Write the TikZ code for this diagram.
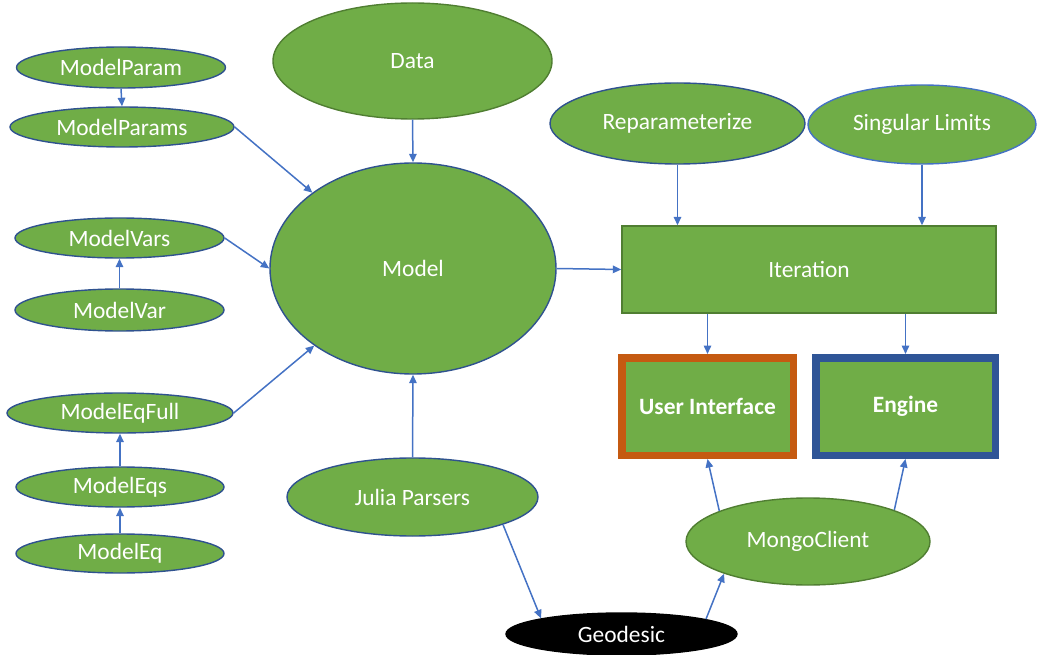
\documentclass[tikz,border=0pt]{standalone}
\usepackage{fontspec}
\setmainfont{Carlito}
\usetikzlibrary{shapes.geometric,arrows.meta,calc}
\definecolor{gfill}{HTML}{70AD47}
\definecolor{gline}{HTML}{507E32}
\definecolor{bline}{HTML}{2F528F}
\definecolor{lline}{HTML}{4472C4}
\definecolor{arr}{HTML}{4472C4}
\definecolor{orng}{HTML}{C55A11}
\definecolor{dblue}{HTML}{2F5597}
\tikzset{
  ell/.style={ellipse, fill=gfill, draw=bline, line width=1.4pt, inner sep=0pt, text=white,
    font=\fontsize{23.4}{28}\selectfont},
  gbox/.style={rectangle, fill=gfill, draw=gline, line width=1.4pt, inner sep=0pt, text=white,
    font=\fontsize{23.4}{28}\selectfont},
  fbox/.style={rectangle, fill=gfill, line width=7.5pt, inner sep=0pt, text=white,
    font=\fontsize{23.4}{28}\selectfont\bfseries},
  con/.style={draw=arr, line width=1.5pt, -{Triangle[length=8.5pt,width=7.5pt]}}
}
\begin{document}
\begin{tikzpicture}[x=1pt,y=-1pt]
\useasboundingbox (0,0) rectangle (1037,655);
% left column
\node[ell, minimum width=209pt, minimum height=41pt] (mparam) at (121,67.5) {ModelParam};
\node[ell, minimum width=224pt, minimum height=40pt] (mparams) at (122,127) {ModelParams};
\node[ell, minimum width=209pt, minimum height=40pt] (mvars) at (119.5,238) {ModelVars};
\node[ell, minimum width=209pt, minimum height=42pt] (mvar) at (119.5,310) {ModelVar};
\node[ell, minimum width=226pt, minimum height=40pt] (meqfull) at (120,413) {ModelEqFull};
\node[ell, minimum width=208pt, minimum height=40pt] (meqs) at (120,487) {ModelEqs};
\node[ell, minimum width=208pt, minimum height=39pt] (meq) at (120,553.5) {ModelEq};
% centre
\node[ell, draw=gline, minimum width=279pt, minimum height=116pt] (data) at (412.5,61) {Data};
\node[ell, minimum width=286pt, minimum height=211pt] (model) at (413,268.5) {Model};
\node[ell, minimum width=251pt, minimum height=78pt] (julia) at (412.5,497) {Julia Parsers};
\node[ell, fill=black, draw=black, minimum width=231pt, minimum height=42pt] (geo) at (621.5,634) {Geodesic};
\node[ell, draw=gline, minimum width=244pt, minimum height=87pt] (mongo) at (808,541.5) {MongoClient};
% right
\node[ell, minimum width=255pt, minimum height=81pt] (rep) at (677.5,123.5) {Reparameterize};
\node[ell, draw=lline, minimum width=228pt, minimum height=79pt] (sing) at (922,124.5) {Singular Limits};
\node[gbox, minimum width=374pt, minimum height=87pt] (iter) at (809,269.5) {Iteration};
\node[fbox, draw=orng, minimum width=171.5pt, minimum height=97.5pt] (ui) at (707.5,406.5) {User Interface};
\node[fbox, draw=dblue, minimum width=179.5pt, minimum height=97.5pt] (engine) at (905.5,406.5) {Engine};
% connectors
\draw[con] (mparam.south) -- (mparams.north);
\draw[con] (mparams.east) -- (model.143);
\draw[con] (mvars.east) -- (model.west);
\draw[con] (mvar.north) -- (mvars.south);
\draw[con] (meqfull.east) -- (model.218);
\draw[con] (meqs.north) -- (meqfull.south);
\draw[con] (meq.north) -- (meqs.south);
\draw[con] (data.south) -- (model.north);
\draw[con] (julia.north) -- (model.south);
\draw[con] (julia.-17.7) -- (geo.169);
\draw[con] (geo.10.5) -- (mongo.201);
\draw[con] (mongo.161) -- (ui.south);
\draw[con] (mongo.20) -- (engine.south);
\draw[con] (model.east) -- (iter.west);
\draw[con] (rep.south) -- (rep.south |- iter.north);
\draw[con] (sing.south) -- (sing.south |- iter.north);
\draw[con] (iter.south -| ui.north) -- (ui.north);
\draw[con] (iter.south -| engine.north) -- (engine.north);
\end{tikzpicture}
\end{document}
